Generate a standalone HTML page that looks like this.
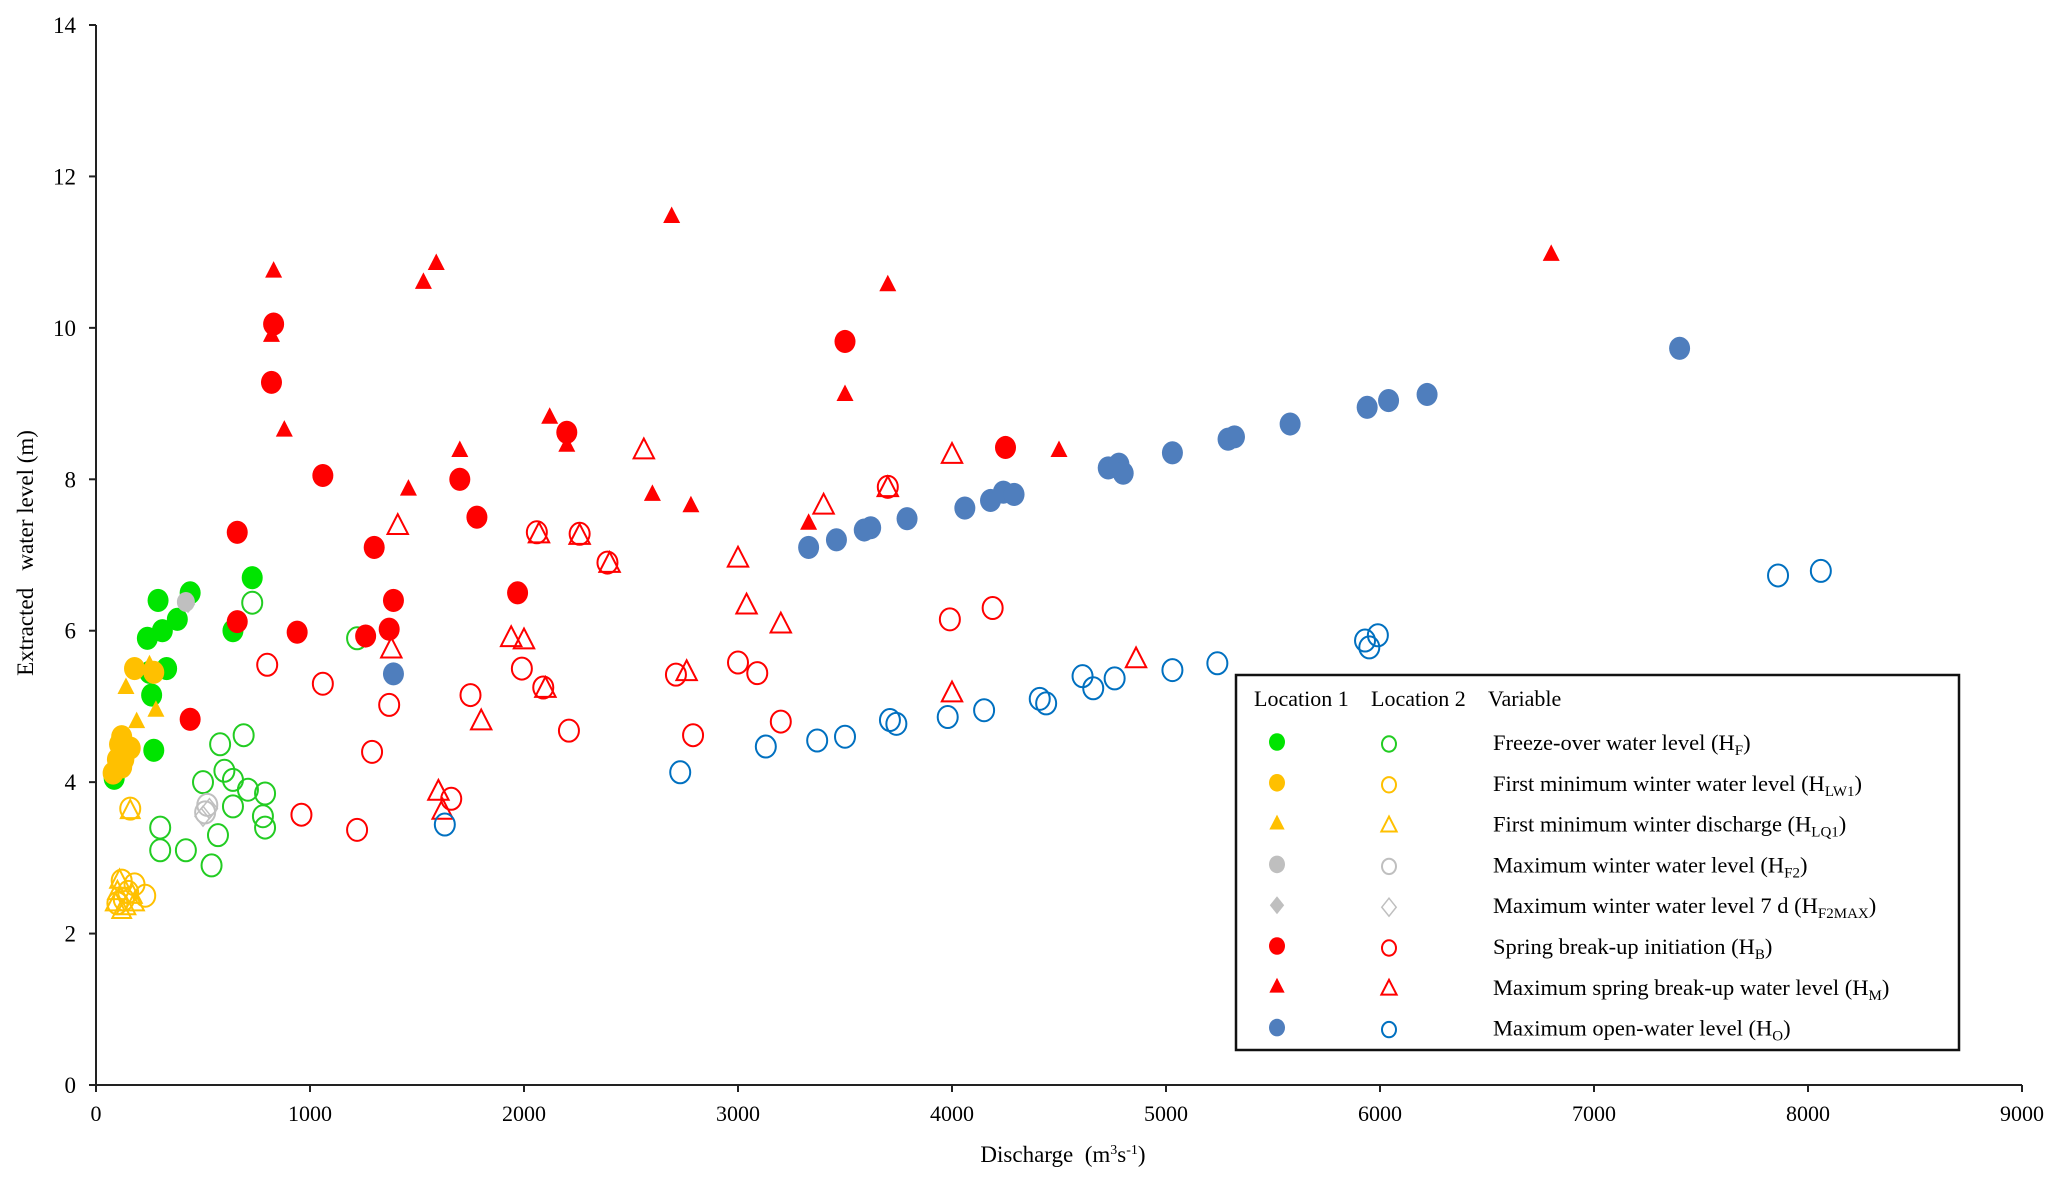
<!DOCTYPE html>
<html><head><meta charset="utf-8"><style>
html,body{margin:0;padding:0;background:#fff}
svg{display:block;font-family:"Liberation Serif",serif}
</style></head><body>
<svg id="chart" width="2067" height="1187" viewBox="0 0 2067 1187"></svg>
<script>
const xTicks=[0,1000,2000,3000,4000,5000,6000,7000,8000,9000];
const yTicks=[0,2,4,6,8,10,12,14];
const hfFilled=[[85,4.05],[240,5.9],[290,6.4],[310,6.0],[330,5.5],[380,6.15],[440,6.5],[260,5.15],[270,4.42],[730,6.7],[640,6.0],[250,5.45]];
const hfOpen=[[730,6.37],[1220,5.9],[690,4.62],[580,4.5],[600,4.15],[500,4.0],[640,4.03],[710,3.9],[790,3.85],[780,3.55],[790,3.4],[640,3.68],[570,3.3],[300,3.4],[300,3.1],[420,3.1],[540,2.9]];
const hlwFilled=[[180,5.5],[270,5.45],[120,4.6],[110,4.5],[130,4.3],[160,4.45],[80,4.12],[100,4.3],[120,4.2]];
const hlqFilled=[[140,5.25],[250,5.55],[280,4.95],[190,4.8],[120,4.25]];
const hlwOpen=[[160,3.65],[120,2.7],[180,2.65],[230,2.5],[150,2.55],[100,2.4],[130,2.45]];
const hlqOpen=[[160,3.62],[110,2.7],[90,2.4],[140,2.35],[180,2.4],[120,2.3],[100,2.55],[170,2.5]];
const hf2Filled=[[420,6.38]];
const hf2maxFilled=[[430,6.35]];
const hf2Open=[[520,3.7],[510,3.6]];
const hf2maxOpen=[[530,3.65],[500,3.55]];
const hbFilled=[[830,10.05],[820,9.28],[1060,8.05],[660,7.3],[1300,7.1],[660,6.12],[940,5.98],[1260,5.93],[1390,6.4],[1370,6.02],[440,4.83],[1700,8.0],[1780,7.5],[1970,6.5],[2200,8.62],[3500,9.82],[4250,8.42]];
const hmFilled=[[830,10.75],[820,9.9],[880,8.65],[1530,10.6],[1590,10.85],[1460,7.87],[1700,8.38],[2120,8.82],[2200,8.45],[2690,11.47],[2600,7.8],[2780,7.65],[3700,10.57],[3500,9.12],[3330,7.42],[4500,8.38],[6800,10.97]];
const hbOpen=[[800,5.55],[1060,5.3],[1370,5.02],[1290,4.4],[960,3.57],[1220,3.37],[1660,3.78],[1750,5.15],[1990,5.5],[2090,5.25],[2060,7.3],[2260,7.28],[2390,6.9],[2210,4.68],[2710,5.42],[3000,5.58],[3090,5.44],[2790,4.62],[3200,4.8],[3700,7.9],[3990,6.15],[4190,6.3]];
const hmOpen=[[1410,7.38],[1380,5.75],[1600,3.87],[1620,3.62],[1800,4.8],[1940,5.9],[2000,5.87],[2070,7.27],[2100,5.23],[2260,7.25],[2400,6.88],[2560,8.38],[2760,5.45],[3000,6.95],[3040,6.33],[3200,6.08],[3400,7.65],[3700,7.88],[4000,8.32],[4000,5.17],[4860,5.62]];
const hoFilled=[[1390,5.43],[3330,7.1],[3460,7.2],[3590,7.33],[3620,7.36],[3790,7.48],[4060,7.62],[4180,7.72],[4240,7.83],[4290,7.8],[4730,8.15],[4780,8.2],[4800,8.08],[5030,8.35],[5290,8.53],[5320,8.56],[5580,8.73],[5940,8.95],[6040,9.04],[6220,9.12],[7400,9.73]];
const hoOpen=[[1630,3.44],[2730,4.13],[3130,4.47],[3370,4.55],[3500,4.6],[3710,4.82],[3740,4.77],[3980,4.86],[4150,4.95],[4410,5.1],[4440,5.04],[4610,5.4],[4660,5.24],[4760,5.37],[5030,5.48],[5240,5.57],[5930,5.87],[5950,5.78],[5990,5.94],[7860,6.73],[8060,6.79]];

const NS='http://www.w3.org/2000/svg';
const svg=document.getElementById('chart');
const X0=96,X1=2022,Y0=1085,Y1=25;
const sx=v=>X0+(v/9000)*(X1-X0);
const sy=v=>Y0-(v/14)*(Y0-Y1);
function mk(tag,attrs,parent){const e=document.createElementNS(NS,tag);for(const k in attrs)e.setAttribute(k,attrs[k]);(parent||svg).appendChild(e);return e;}

const axes=mk('g',{});


const xl=mk('line',{x1:X0,y1:Y0,x2:X1,y2:Y0,stroke:'#222','stroke-width':2},axes);


const yl=mk('line',{x1:X0,y1:Y0,x2:X0,y2:Y1,stroke:'#222','stroke-width':2},axes);


xTicks.forEach(t=>{
  const l=mk('line',{x1:sx(t),y1:Y0,x2:sx(t),y2:Y0+7,stroke:'#222','stroke-width':2},axes);
  
  
  const tx=mk('text',{x:sx(t),y:Y0+36,'text-anchor':'middle','font-size':22,fill:'#000'},axes);
  tx.textContent=t;
  
  
});
yTicks.forEach(t=>{
  const l=mk('line',{x1:X0-7,y1:sy(t),x2:X0,y2:sy(t),stroke:'#222','stroke-width':2},axes);
  
  
  const tx=mk('text',{x:X0-20,y:sy(t)+8,'text-anchor':'end','font-size':23,fill:'#000'},axes);
  tx.textContent=t;
  
  
});
const xt=mk('text',{x:1063,y:1162,'text-anchor':'middle','font-size':23,fill:'#000'});
xt.innerHTML='Discharge&#160;&#160;(m<tspan dy="-8" font-size="14">3</tspan><tspan dy="8">s</tspan><tspan dy="-8" font-size="14">-1</tspan><tspan dy="8">)</tspan>';


const yt=mk('text',{x:0,y:0,'text-anchor':'middle','font-size':23,fill:'#000',transform:'translate(33,553) rotate(-90)'});
yt.textContent='Extracted\u00a0\u00a0\u00a0water level (m)';



function marker(g,shape,x,y,color,filled,size){
  const fill=filled?color:'#fff';const fo=filled?1:0;
  let e;
  if(shape==='c'){e=mk('ellipse',{cx:x,cy:y,rx:size,ry:size*1.1,fill:fill,'fill-opacity':fo,stroke:color,'stroke-width':filled?0:2},g);}
  else if(shape==='t'){const s=size;e=mk('polygon',{points:`${x},${y-s} ${x-s*0.85},${y+s*0.65} ${x+s*0.85},${y+s*0.65}`,fill:fill,'fill-opacity':fo,stroke:color,'stroke-width':filled?0:2},g);}
  else {const s=size;e=mk('polygon',{points:`${x},${y-s} ${x+s*0.8},${y} ${x},${y+s} ${x-s*0.8},${y}`,fill:fill,'fill-opacity':fo,stroke:color,'stroke-width':filled?0:1.5},g);}
  return e;
}
function series(name,data,shape,color,filled,size){
  const g=mk('g',{});
  
  
  data.forEach(d=>{
    const e=marker(g,shape,sx(d[0]),sy(d[1]),color,filled,size);
    
    
  });
}
const G='#00E400',Y='#FFC000',R='#FF0000',B='#4F7EBD',BO='#0070C0',GR='#BFBFBF';
series('hf-location2',hfOpen,'c','#22CC22',false,10);
series('hlw1-location2',hlwOpen,'c',Y,false,10);
series('hlq1-location2',hlqOpen,'t',Y,false,11);
series('hf2-location2',hf2Open,'c',GR,false,10);
series('hf2max-location2',hf2maxOpen,'d',GR,false,10);
series('hb-location2',hbOpen,'c',R,false,10);
series('hm-location2',hmOpen,'t',R,false,12);
series('ho-location2',hoOpen,'c',BO,false,10);
series('hf-location1',hfFilled,'c',G,true,10.5);
series('hlw1-location1',hlwFilled,'c',Y,true,10.5);
series('hlq1-location1',hlqFilled,'t',Y,true,10);
series('hf2-location1',hf2Filled,'c',GR,true,9);
series('hf2max-location1',hf2maxFilled,'d',GR,true,9);
series('hb-location1',hbFilled,'c',R,true,10.5);
series('hm-location1',hmFilled,'t',R,true,10);
series('ho-location1',hoFilled,'c',B,true,10.5);

const lg=mk('g',{});


const lb=mk('rect',{x:1236,y:675,width:723,height:375,fill:'#fff',stroke:'#111','stroke-width':2.5},lg);


[['Location 1',1254],['Location 2',1371],['Variable',1488]].forEach(h=>{
  const t=mk('text',{x:h[1],y:706,'font-size':22,fill:'#000'},lg);
  t.textContent=h[0];
  
  
});
const legendItems=[
 ['c',G,'#22CC22','Freeze-over water level (H','F',')'],
 ['c',Y,Y,'First minimum winter water level (H','LW1',')'],
 ['t',Y,Y,'First minimum winter discharge (H','LQ1',')'],
 ['c',GR,GR,'Maximum winter water level (H','F2',')'],
 ['d',GR,GR,'Maximum winter water level 7 d (H','F2MAX',')'],
 ['c',R,R,'Spring break-up initiation (H','B',')'],
 ['t',R,R,'Maximum spring break-up water level (H','M',')'],
 ['c',B,BO,'Maximum open-water level (H','O',')']];
legendItems.forEach((it,i)=>{
  const y=742+i*40.8;
  const m1=marker(lg,it[0],1277,y,it[1],true,it[0]==='c'?8:9);
  
  
  const m2=marker(lg,it[0],1389,y+2,it[2],false,it[0]==='c'?7:9);
  
  
  const t=mk('text',{x:1493,y:y+8,'font-size':22.5,fill:'#000'},lg);
  t.innerHTML=it[3]+'<tspan dy="5" font-size="15">'+it[4]+'</tspan><tspan dy="-5">'+it[5]+'</tspan>';
  
  
});
</script>
</body></html>
